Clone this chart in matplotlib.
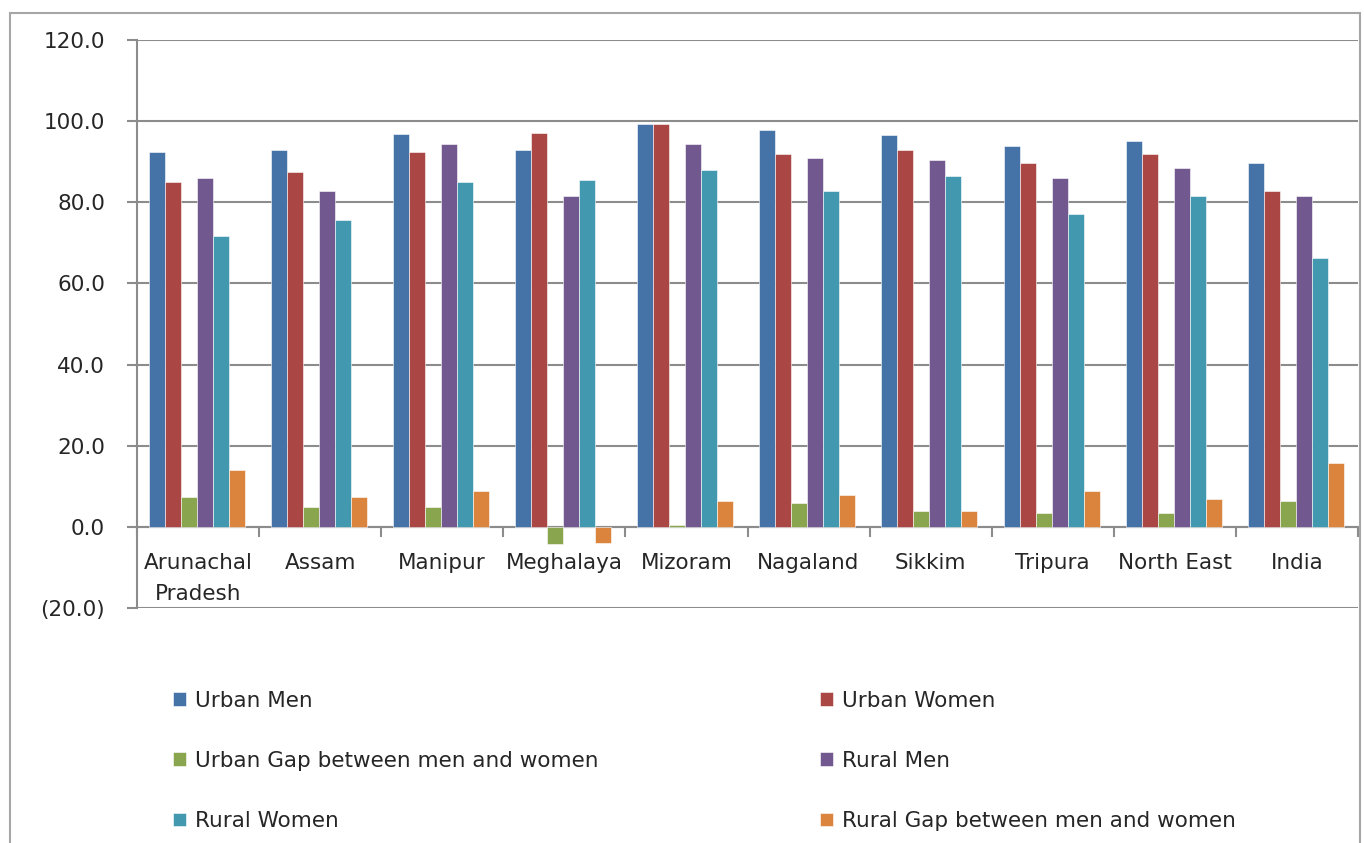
import numpy as np
import matplotlib
matplotlib.use("Agg")
import matplotlib.pyplot as plt
from matplotlib.patches import Rectangle, Patch
from matplotlib.ticker import FixedLocator, FuncFormatter

regions = ["Arunachal\nPradesh", "Assam", "Manipur", "Meghalaya", "Mizoram",
           "Nagaland", "Sikkim", "Tripura", "North East", "India"]

urban_men = [92.3, 92.8, 96.8, 92.8, 99.2, 97.7, 96.7, 93.8, 95.2, 89.8]
urban_women = [84.9, 87.4, 92.3, 97.2, 99.2, 91.8, 92.8, 89.8, 91.8, 82.9]
urban_gap = [7.4, 4.9, 4.9, -4.2, 0.5, 5.9, 3.9, 3.4, 3.4, 6.4]
rural_men = [85.9, 82.9, 94.3, 81.5, 94.3, 90.8, 90.3, 85.9, 88.4, 81.5]
rural_women = [71.6, 75.6, 84.9, 85.4, 87.9, 82.9, 86.4, 77.0, 81.5, 66.2]
rural_gap = [13.9, 7.4, 8.9, -3.9, 6.4, 7.9, 3.9, 8.9, 6.9, 15.8]

series = [
    ("Urban Men", urban_men, "#4572A7"),
    ("Urban Women", urban_women, "#AA4643"),
    ("Urban Gap between men and women", urban_gap, "#89A54E"),
    ("Rural Men", rural_men, "#71588F"),
    ("Rural Women", rural_women, "#4198AF"),
    ("Rural Gap between men and women", rural_gap, "#DB843D"),
]

plt.rcParams["font.family"] = ["DejaVu Sans"]
text_col = "#262626"
grid_col = "#8c8c8c"

fig = plt.figure(figsize=(13.64, 8.43), dpi=100)
fig.patches.append(Rectangle((10 / 1364, -0.05), 1350 / 1364, 1.05 - 13 / 843,
                             transform=fig.transFigure, fill=False,
                             edgecolor="#a6a6a6", linewidth=1.5))

ax = fig.add_axes([137 / 1364, 1 - 608 / 843, 1221 / 1364, 568 / 843])

x = np.arange(len(regions))
bw = 0.131
for i, (name, vals, col) in enumerate(series):
    ax.bar(x + (i - 2.5) * bw - 0.01, vals, width=bw, color=col,
           edgecolor="white", linewidth=0.4, label=name, zorder=3)

ax.set_xlim(-0.5, len(regions) - 0.5)
ax.set_ylim(-20, 120)
ax.set_yticks(np.arange(-20, 121, 20))
ax.yaxis.set_major_formatter(FuncFormatter(
    lambda v, p: f"({abs(v):.1f})" if v < 0 else f"{v:.1f}"))
ax.grid(axis="y", color=grid_col, linewidth=1.5, zorder=0)

for s in ["top", "right"]:
    ax.spines[s].set_visible(False)
ax.spines["left"].set_color(grid_col)
ax.spines["left"].set_linewidth(1.5)
ax.spines["bottom"].set_position(("data", 0))
ax.spines["bottom"].set_color(grid_col)
ax.spines["bottom"].set_linewidth(1.5)

# boundary ticks between categories, labels sit on minor ticks at centres
ax.xaxis.set_major_locator(FixedLocator(np.arange(len(regions) + 1) - 0.5))
ax.xaxis.set_major_formatter(FuncFormatter(lambda v, p: ""))
ax.xaxis.set_minor_locator(FixedLocator(x))
ax.set_xticklabels(regions, minor=True)
ax.tick_params(axis="x", which="major", length=7, width=1.5, color=grid_col,
               direction="out")
ax.tick_params(axis="x", which="minor", length=0, pad=19, labelsize=15.5,
               labelcolor=text_col)
ax.tick_params(axis="y", length=7, width=1.5, color=grid_col, pad=16,
               labelsize=15.5, labelcolor=text_col)
for lab in ax.get_xticklabels(minor=True):
    lab.set_linespacing(1.65)

handles = [Patch(facecolor=c, edgecolor="white", linewidth=0.4) for _, _, c in series]
names = [n for n, _, _ in series]
leg_kw = dict(frameon=False, fontsize=15.5, handlelength=0.62, handleheight=0.62,
              handletextpad=0.4, labelspacing=1.86, borderpad=0,
              borderaxespad=0, labelcolor=text_col, loc="upper left")
fig.legend([handles[0], handles[2], handles[4]],
           [names[0], names[2], names[4]],
           bbox_to_anchor=(173 / 1364, 1 - 691 / 843), **leg_kw)
fig.legend([handles[1], handles[3], handles[5]],
           [names[1], names[3], names[5]],
           bbox_to_anchor=(820 / 1364, 1 - 691 / 843), **leg_kw)

fig.savefig("out.png", dpi=100)
